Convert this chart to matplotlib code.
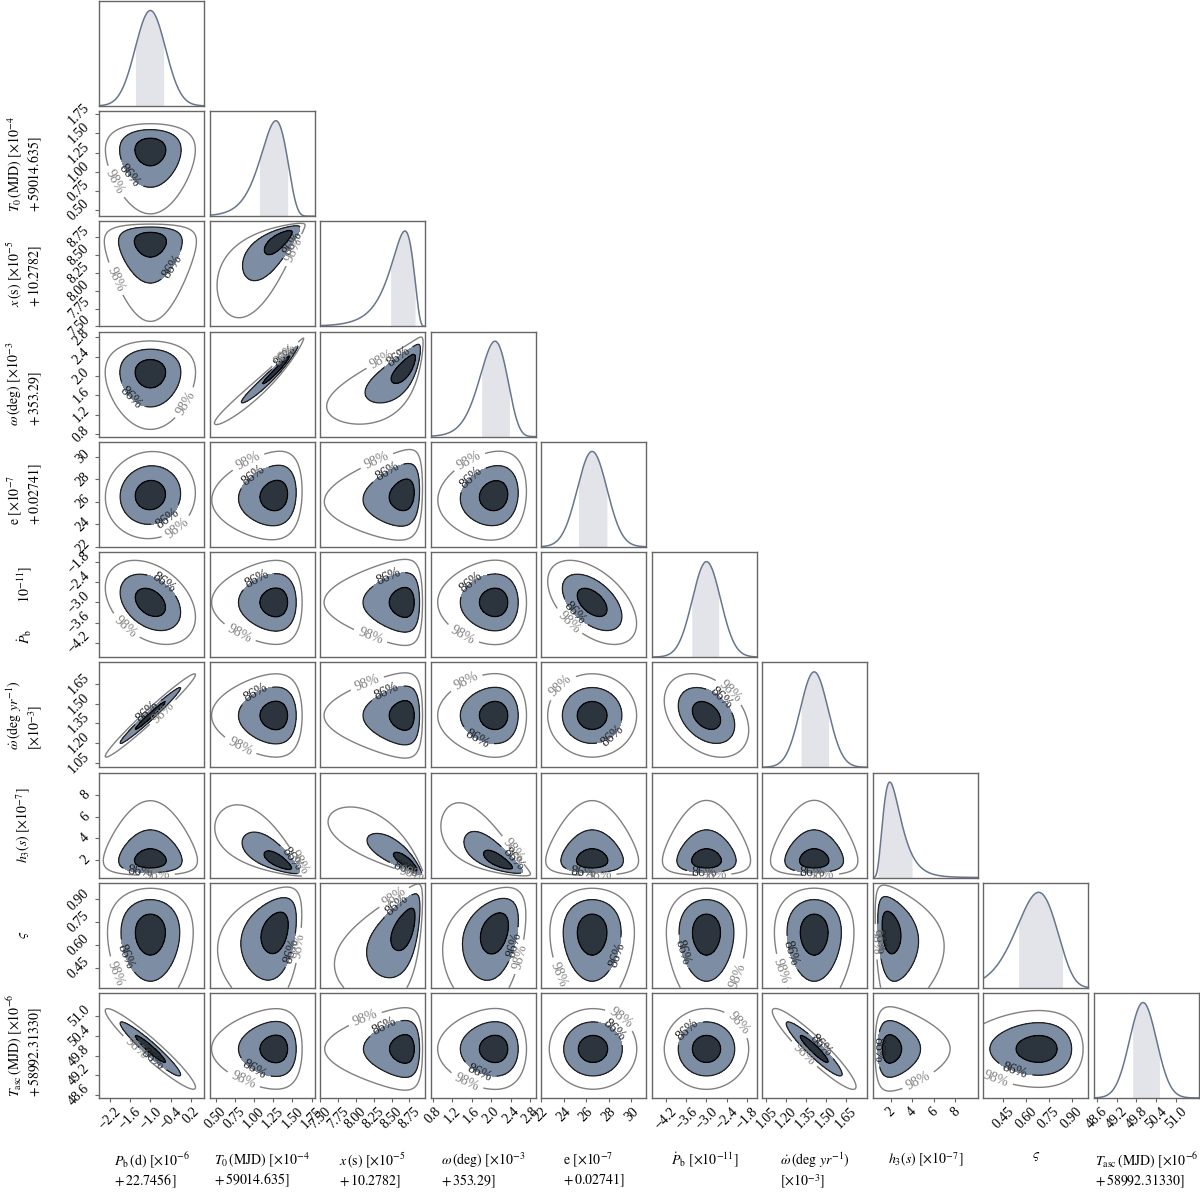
import numpy as np
import matplotlib.pyplot as plt

plt.rcParams['font.family'] = ['Liberation Serif', 'DejaVu Serif']
plt.rcParams['mathtext.fontset'] = 'stix'

# axis labels (bottom row and left column)
x_labels = [r'$P_{\rm b}\,(\rm d)\ [\times 10^{-6}$' + '\n' + r'$+\,22.7456\,]$',
            r'$T_0\,(\rm MJD)\ [\times 10^{-4}$' + '\n' + r'$+\,59014.635]$',
            r'$x\,(\rm s)\ [\times 10^{-5}$' + '\n' + r'$+\,10.2782]$',
            r'$\omega\,(\rm deg)\ [\times 10^{-3}$' + '\n' + r'$+\,353.29]$',
            r'$\rm e\ [\times 10^{-7}$' + '\n' + r'$+\,0.02741]$',
            r'$\dot{P}_{\rm b}\ [\times 10^{-11}]$',
            r'$\dot{\omega}\,(\mathrm{deg}\ yr^{-1})$' + '\n' + r'$[\times 10^{-3}]$',
            r'$h_3(s)\ [\times 10^{-7}]$',
            r'$\varsigma$',
            r'$T_{\rm asc}\,(\rm MJD)\ [\times 10^{-6}$' + '\n' + r'$+\,58992.31330]$']
y_labels = list(x_labels)
y_labels[5] = r'$\dot{P}_{\rm b}$' + '        ' + r'$10^{-11}]$'

# posterior shape (centre, width, skew of each parameter)
centers = [-1.0, 1.23, 8.60, 2.02, 26.6, -3.0, 1.41, 2.33, 0.655, 50.0]
scales = [0.45, 0.19, 0.20, 0.30, 1.3, 0.42, 0.105, 1.0, 0.14, 0.41]
skews = [0.0, -0.3, -0.5, -0.2, 0.0, 0.0, 0.0, 0.45, -0.2, 0.0]

# shaded 68% band of the 1D panels
shade_lo = [-1.45, 1.07, 8.49, 1.80, 25.4, -3.44, 1.31, 0.8, 0.55, 49.68]
shade_hi = [-0.60, 1.44, 8.83, 2.38, 27.9, -2.63, 1.52, 4.0, 0.84, 50.50]

# axis ranges
lows = [-2.53, 0.42, 7.51, 0.75, 22.15, -4.63, 1.02, 0.35, 0.32, 48.51]
highs = [0.60, 1.79, 8.97, 2.92, 31.33, -1.50, 1.81, 10.1, 1.01, 51.70]

ticks = [[-2.2, -1.6, -1.0, -0.4, 0.2],
         [0.50, 0.75, 1.00, 1.25, 1.50, 1.75],
         [7.50, 7.75, 8.00, 8.25, 8.50, 8.75],
         [0.8, 1.2, 1.6, 2.0, 2.4, 2.8],
         [22, 24, 26, 28, 30],
         [-4.2, -3.6, -3.0, -2.4, -1.8],
         [1.05, 1.20, 1.35, 1.50, 1.65],
         [2, 4, 6, 8],
         [0.45, 0.60, 0.75, 0.90],
         [48.6, 49.2, 49.8, 50.4, 51.0]]
tick_fmt = ['%.1f', '%.2f', '%.2f', '%.1f', '%d', '%.1f', '%.2f', '%d', '%.2f', '%.1f']

# pairwise correlations (lower triangle, row i vs column j)
corr_rows = [[],
             [0.0],
             [0.0, 0.75],
             [0.0, 0.98, 0.75],
             [0.05, 0.1, 0.15, 0.1],
             [-0.35, 0.0, 0.0, 0.0, -0.5],
             [0.98, 0.0, 0.0, 0.0, 0.0, -0.35],
             [0.0, -0.75, -0.85, -0.75, 0.0, 0.0, 0.0],
             [0.0, 0.3, 0.55, 0.3, 0.0, 0.0, 0.0, -0.25],
             [-0.95, 0.0, 0.0, 0.0, 0.0, 0.0, -0.93, 0.0, 0.0]]

fill_mid = '#7d8ea4'
fill_core = '#2c343e'
line_1d = '#66768d'
shade_1d = '#e3e4e9'
grey_line = '#808080'
spine_col = '#666666'

n = len(centers)


def latent(v, i):
    # map parameter value to gaussian latent variable (+ jacobian)
    u = (v - centers[i]) / scales[i]
    k = skews[i]
    if k == 0:
        return u, np.full_like(v, 1.0 / scales[i])
    arg = 1 + k * u
    good = arg > 1e-6
    arg = np.where(good, arg, 1.0)
    z = np.where(good, np.log(arg) / k, 50.0)
    jac = np.where(good, 1.0 / (scales[i] * arg), 0.0)
    return z, jac


def levels_for(H, fracs):
    flat = np.sort(H.ravel())[::-1]
    cum = np.cumsum(flat)
    cum = cum / cum[-1]
    return [flat[min(np.searchsorted(cum, f), len(flat) - 1)] for f in fracs]


def tick_text(i):
    return [(tick_fmt[i] % t).replace('-', '\u2212') for t in ticks[i]]


fig, axes = plt.subplots(n, n, figsize=(12, 11.98), dpi=100,
                         gridspec_kw=dict(left=0.0825, right=0.9992, bottom=0.0835,
                                          top=0.9992, wspace=0.052, hspace=0.05))

for i in range(n):
    for j in range(n):
        ax = axes[i, j]
        if j > i:
            ax.axis('off')
            continue
        for s in ax.spines.values():
            s.set_color(spine_col)
            s.set_linewidth(1.0)
        ax.set_xlim(lows[j], highs[j])
        ax.set_xticks([])
        ax.set_yticks([])

        if i == j:
            xs = np.linspace(lows[i], highs[i], 500)
            z, jac = latent(xs, i)
            pdf = np.exp(-0.5 * z ** 2) * jac
            m = (xs >= shade_lo[i]) & (xs <= shade_hi[i])
            ax.fill_between(xs[m], 0, pdf[m], color=shade_1d, lw=0)
            ax.plot(xs, pdf, color=line_1d, lw=1.1)
            ax.set_ylim(0, pdf.max() * 1.1)
        else:
            ax.set_ylim(lows[i], highs[i])
            xs = np.linspace(lows[j], highs[j], 220)
            ys = np.linspace(lows[i], highs[i], 220)
            X, Y = np.meshgrid(xs, ys)
            zx, jx = latent(X, j)
            zy, jy = latent(Y, i)
            r = corr_rows[i][j]
            q = (zx ** 2 - 2 * r * zx * zy + zy ** 2) / (1 - r ** 2)
            H = np.exp(-0.5 * q) * jx * jy
            t39, t86, t98 = levels_for(H, [0.393, 0.865, 0.989])
            ax.contourf(X, Y, H, levels=[t86, t39, H.max() * 1.01],
                        colors=[fill_mid, fill_core])
            ax.contour(X, Y, H, levels=[t39], colors='k', linewidths=0.9)
            c86 = ax.contour(X, Y, H, levels=[t86], colors='#1e1e1e', linewidths=0.9)
            c98 = ax.contour(X, Y, H, levels=[t98], colors=grey_line, linewidths=1.0)
            ax.clabel(c86, fmt=lambda v: '86%', fontsize=10, inline=True)
            ax.clabel(c98, fmt=lambda v: '98%', fontsize=10, inline=True)

        if i == n - 1:
            ax.set_xticks(ticks[j])
            ax.set_xticklabels(tick_text(j), rotation=45, ha='center', va='top', fontsize=10)
            ax.tick_params(axis='x', direction='out', length=3, color=spine_col, pad=2)
            ax.set_xlabel(x_labels[j], fontsize=10, multialignment='left')
            ax.xaxis.set_label_coords(0.5, -0.5)
        if j == 0 and i > 0:
            ax.set_yticks(ticks[i])
            ax.set_yticklabels(tick_text(i), rotation=45, ha='right', va='center', fontsize=10)
            ax.tick_params(axis='y', direction='out', length=3, color=spine_col, pad=2)
            ax.set_ylabel(y_labels[i], fontsize=10, multialignment='left', va='center')
            ax.yaxis.set_label_coords(-0.71, 0.5)

plt.savefig('out.png', dpi=100)
